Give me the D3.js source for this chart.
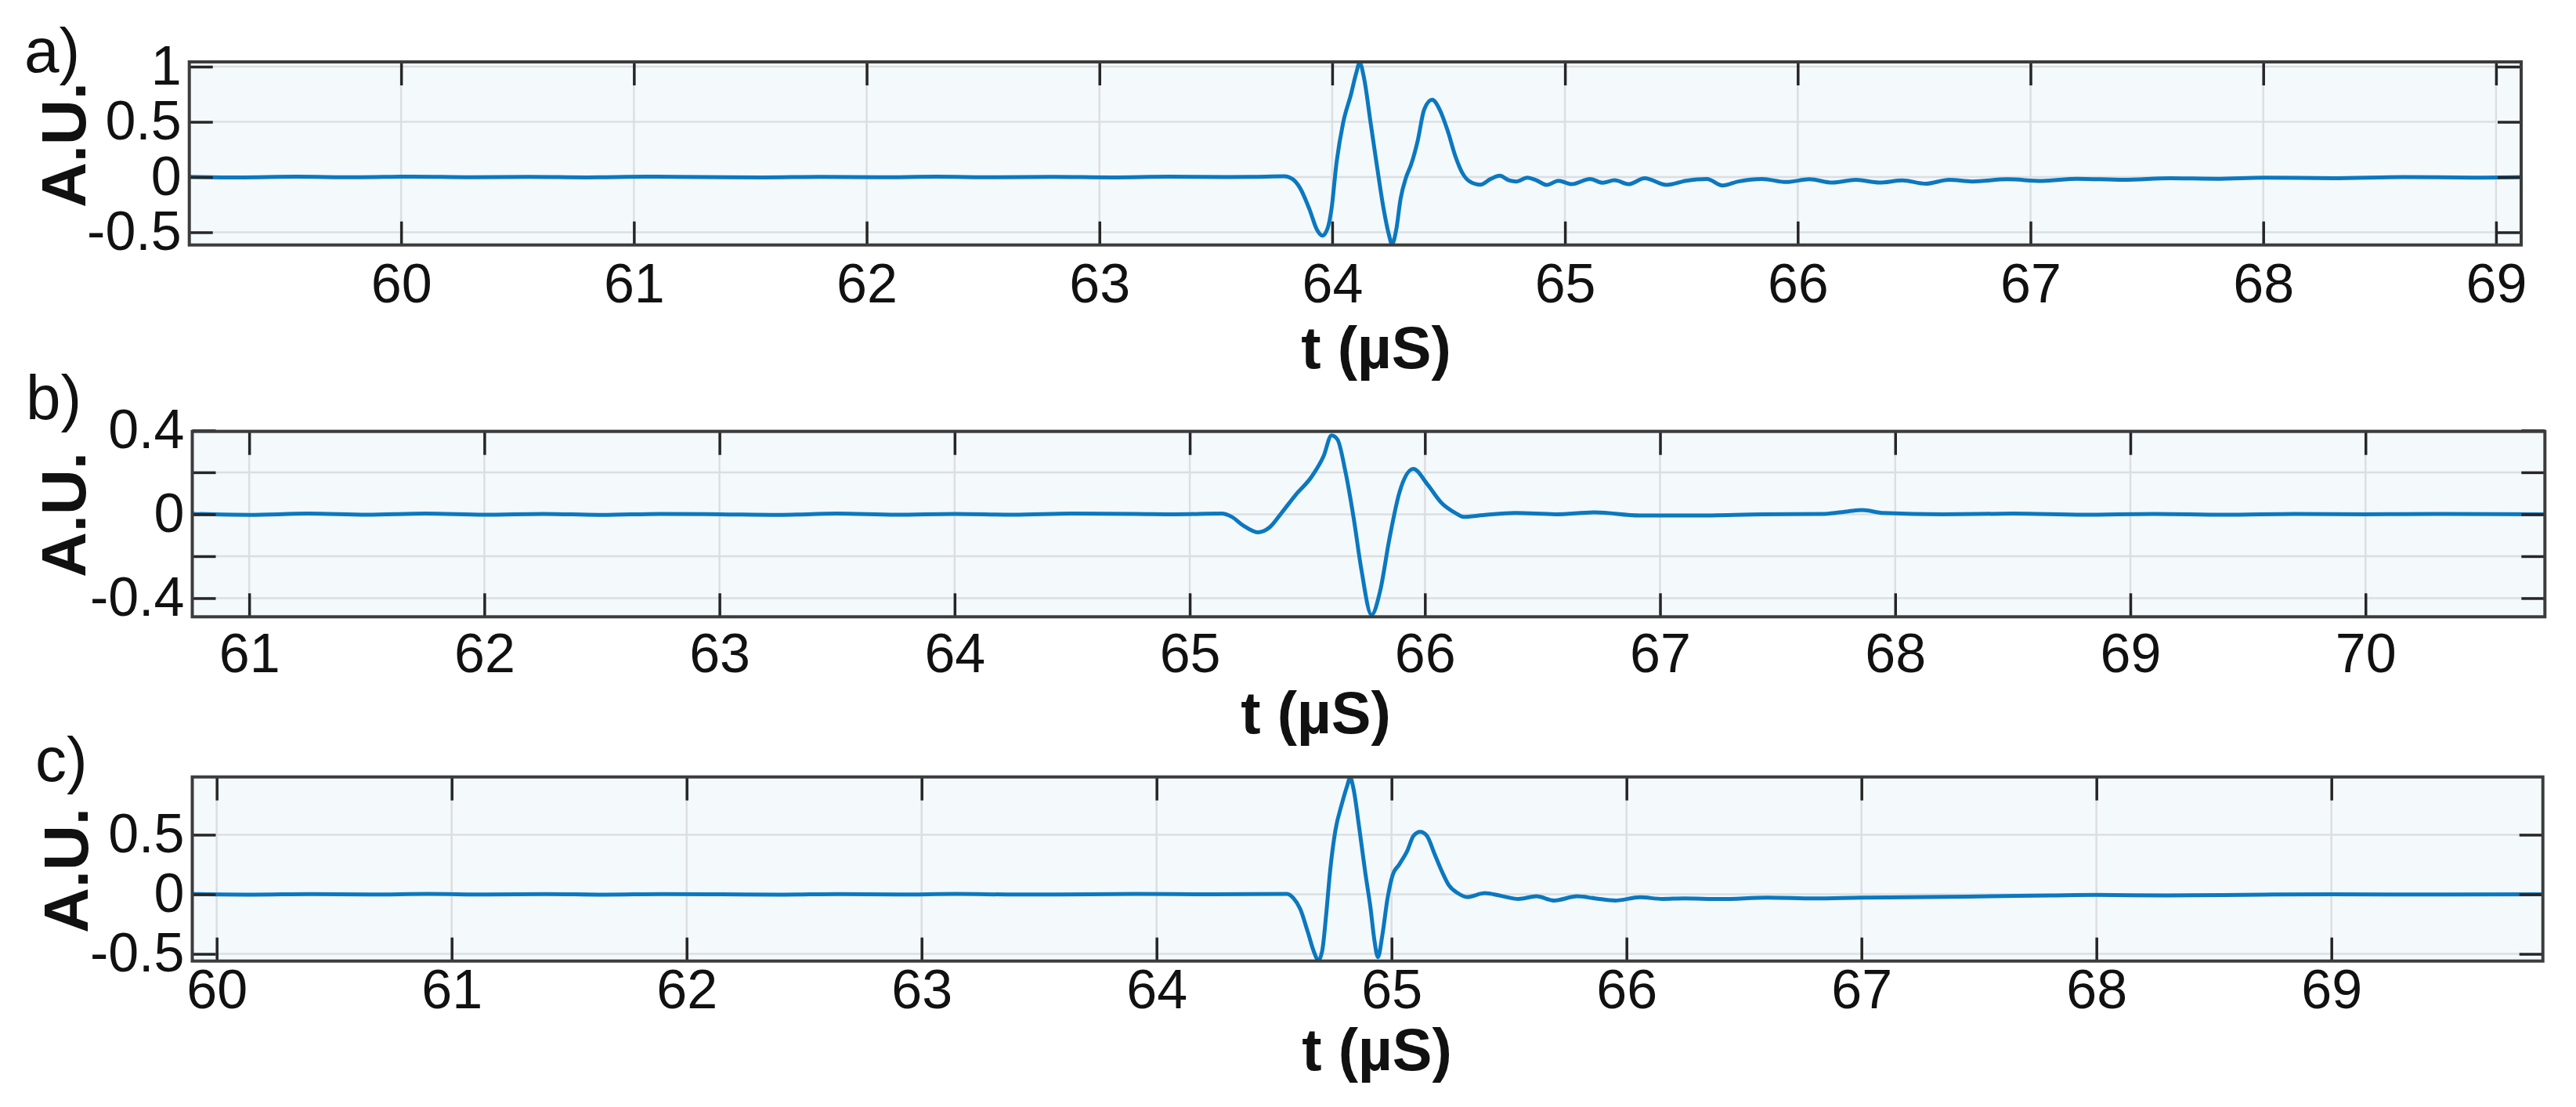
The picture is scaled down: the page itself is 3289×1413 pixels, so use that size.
<!DOCTYPE html>
<html>
<head>
<meta charset="utf-8">
<script src="https://cdn.jsdelivr.net/npm/d3@7"></script>
<style>
  body { margin: 0; background: #fff; }
  svg { display: block; font-family: "Liberation Sans", Arial, sans-serif; }
</style>
</head>
<body>
<script>
const width = 3289, height = 1413;

// signal a) : [t (µs), amplitude]
const waveA = [
  [59.09, 0.002], [59.3, -0.003], [59.55, 0.003], [59.8, -0.002], [60.05, 0.004], [60.3, -0.002],
  [60.55, 0.002], [60.8, -0.003], [61.05, 0.003], [61.3, 0.0], [61.55, -0.003], [61.8, 0.002],
  [62.05, -0.002], [62.3, 0.003], [62.55, -0.002], [62.8, 0.002], [63.05, -0.003], [63.3, 0.003],
  [63.55, 0.0], [63.661, 0.002], [63.795, 0.007],
  [63.829, -0.017], [63.862, -0.10], [63.902, -0.29], [63.935, -0.478], [63.958, -0.53], [63.98, -0.466],
  [63.997, -0.289], [64.019, 0.137], [64.047, 0.492], [64.081, 0.752], [64.103, 0.94], [64.118, 1.035],
  [64.137, 0.894], [64.165, 0.492], [64.193, 0.09], [64.221, -0.289], [64.244, -0.525], [64.257, -0.608],
  [64.275, -0.478], [64.294, -0.194], [64.317, -0.005], [64.339, 0.113], [64.367, 0.326], [64.395, 0.61],
  [64.429, 0.70], [64.462, 0.61], [64.496, 0.42], [64.53, 0.184], [64.558, 0.042], [64.591, -0.04],
  [64.636, -0.069], [64.681, -0.017], [64.72, 0.012], [64.759, -0.029], [64.793, -0.04], [64.838, -0.005],
  [64.877, -0.029], [64.922, -0.071], [64.972, -0.033], [65.029, -0.064], [65.107, -0.017], [65.163, -0.052],
  [65.213, -0.029], [65.275, -0.064], [65.342, -0.01], [65.437, -0.071], [65.52, -0.033], [65.61, -0.017],
  [65.677, -0.076], [65.745, -0.04], [65.847, -0.017], [65.95, -0.045], [66.05, -0.02], [66.15, -0.05],
  [66.25, -0.025], [66.35, -0.05], [66.45, -0.03], [66.55, -0.06], [66.65, -0.025], [66.75, -0.04],
  [66.9, -0.02], [67.05, -0.035], [67.2, -0.015], [67.4, -0.025], [67.6, -0.01], [67.8, -0.015],
  [68.0, -0.005], [68.3, -0.01], [68.6, 0.0], [68.9, -0.005], [69.11, 0.0]
];

// signal b)
const waveB = [
  [60.76, 0.002], [61.0, -0.003], [61.25, 0.003], [61.5, -0.002], [61.75, 0.003], [62.0, -0.002],
  [62.25, 0.002], [62.5, -0.003], [62.75, 0.002], [63.0, 0.0], [63.25, -0.003], [63.5, 0.003],
  [63.75, -0.002], [64.0, 0.002], [64.25, -0.002], [64.5, 0.003], [64.77, 0.002], [64.94, 0.0],
  [65.136, 0.003], [65.178, -0.012], [65.229, -0.055], [65.289, -0.086], [65.34, -0.062], [65.39, 0.006],
  [65.45, 0.092], [65.518, 0.179], [65.569, 0.277], [65.603, 0.376], [65.628, 0.357], [65.662, 0.203],
  [65.697, -0.018], [65.73, -0.265], [65.773, -0.48], [65.81, -0.364], [65.849, -0.117], [65.892, 0.105],
  [65.951, 0.216], [66.011, 0.142], [66.07, 0.055], [66.13, 0.006], [66.164, -0.012], [66.249, -0.004],
  [66.385, 0.006], [66.555, 0.0], [66.725, 0.009], [66.912, -0.006], [67.15, -0.006], [67.435, 0.0],
  [67.7, 0.002], [67.8, 0.014], [67.86, 0.02], [67.95, 0.006], [68.2, 0.0], [68.5, 0.003],
  [68.8, -0.002], [69.1, 0.002], [69.4, -0.002], [69.7, 0.002], [70.0, 0.0], [70.3, 0.002], [70.76, 0.0]
];

// signal c)
const waveC = [
  [59.9, 0.002], [60.15, -0.003], [60.4, 0.002], [60.65, -0.002], [60.9, 0.003], [61.15, -0.002],
  [61.4, 0.002], [61.65, -0.003], [61.9, 0.002], [62.15, 0.0], [62.4, -0.003], [62.65, 0.002],
  [62.9, -0.002], [63.15, 0.003], [63.4, -0.002], [63.577, -0.001], [63.91, 0.003], [64.244, 0.0],
  [64.555, 0.003], [64.583, -0.034], [64.611, -0.122], [64.644, -0.319], [64.672, -0.495], [64.688, -0.556],
  [64.705, -0.473], [64.722, -0.166], [64.738, 0.185], [64.761, 0.536], [64.788, 0.755], [64.811, 0.909],
  [64.824, 0.979], [64.838, 0.887], [64.861, 0.58], [64.888, 0.185], [64.911, -0.122], [64.927, -0.385],
  [64.942, -0.527], [64.961, -0.341], [64.983, -0.034], [65.005, 0.163], [65.033, 0.251], [65.066, 0.361],
  [65.094, 0.492], [65.122, 0.525], [65.15, 0.492], [65.183, 0.339], [65.216, 0.185], [65.244, 0.076],
  [65.282, 0.01], [65.32, -0.023], [65.397, 0.01], [65.464, -0.012], [65.54, -0.039], [65.617, -0.017],
  [65.693, -0.052], [65.789, -0.017], [65.866, -0.034], [65.952, -0.052], [66.057, -0.025], [66.153, -0.039],
  [66.244, -0.034], [66.4, -0.04], [66.6, -0.028], [66.8, -0.035], [67.0, -0.028], [67.2, -0.025],
  [67.5, -0.018], [67.8, -0.01], [68.0, -0.005], [68.3, -0.01], [68.7, -0.003], [69.0, 0.0],
  [69.5, -0.002], [69.9, 0.0]
];

// axis limits and ticks
const xDomA = [59.09, 69.108], yDomA = [-0.615, 1.043];
const xDomB = [60.758, 70.763], yDomB = [-0.489, 0.395];
const xDomC = [59.896, 69.90], yDomC = [-0.56, 0.985];
const xTicksA = [60, 61, 62, 63, 64, 65, 66, 67, 68, 69];
const xTicksB = [61, 62, 63, 64, 65, 66, 67, 68, 69, 70];
const xTicksC = [60, 61, 62, 63, 64, 65, 66, 67, 68, 69];
const yTicksA = [-0.5, 0, 0.5, 1];
const yTicksB = [-0.4, -0.2, 0, 0.2, 0.4];
const yTicksC = [-0.5, 0, 0.5];
const yLabelsB = [-0.4, 0, 0.4];
const panelNames = ["a)", "b)", "c)"];
const xTitle = "t (µS)", yTitle = "A.U.";

const panels = [
  { name: panelNames[0], wave: waveA, xDom: xDomA, yDom: yDomA, xTicks: xTicksA, yTicks: yTicksA, yLabels: yTicksA,
    box: { l: 241.7, r: 3219, t: 79, b: 312.7 }, xPad: 24, letter: [31, 92], ylab: [109, 185], xlab: [1757, 470] },
  { name: panelNames[1], wave: waveB, xDom: xDomB, yDom: yDomB, xTicks: xTicksB, yTicks: yTicksB, yLabels: yLabelsB,
    box: { l: 245.5, r: 3249.3, t: 550.7, b: 787.3 }, xPad: 21, letter: [33, 535], ylab: [109, 657], xlab: [1680, 936] },
  { name: panelNames[2], wave: waveC, xDom: xDomC, yDom: yDomC, xTicks: xTicksC, yTicks: yTicksC, yLabels: yTicksC,
    box: { l: 245.5, r: 3246.7, t: 991.7, b: 1226.7 }, xPad: 11, letter: [45, 997], ylab: [112, 1111], xlab: [1758, 1366] }
];

const axisColor = "#262626";
const tickLen = 30;

const svg = d3.select("body").append("svg")
  .attr("width", width)
  .attr("height", height)
  .style("background", "#fff");

panels.forEach((p, i) => {
  const w = p.box.r - p.box.l, h = p.box.b - p.box.t;
  const x = d3.scaleLinear().domain(p.xDom).range([0, w]);
  const y = d3.scaleLinear().domain(p.yDom).range([h, 0]);

  const g = svg.append("g").attr("transform", `translate(${p.box.l},${p.box.t})`);

  g.append("rect").attr("width", w).attr("height", h).attr("fill", "#f4f9fc");

  // grid
  g.append("g")
    .selectAll("line")
    .data(p.xTicks)
    .join("line")
    .attr("x1", d => x(d)).attr("x2", d => x(d))
    .attr("y1", 0).attr("y2", h)
    .attr("stroke", "#dcdfe1").attr("stroke-width", 2.5);
  g.append("g")
    .selectAll("line")
    .data(p.yTicks)
    .join("line")
    .attr("x1", 0).attr("x2", w)
    .attr("y1", d => y(d)).attr("y2", d => y(d))
    .attr("stroke", "#dcdfe1").attr("stroke-width", 2.5);

  // signal
  const clipId = "clip" + i;
  g.append("clipPath").attr("id", clipId)
    .append("rect").attr("width", w).attr("height", h);

  const line = d3.line()
    .x(d => x(d[0]))
    .y(d => y(d[1]))
    .curve(d3.curveMonotoneX);

  g.append("path")
    .datum(p.wave)
    .attr("clip-path", `url(#${clipId})`)
    .attr("fill", "none")
    .attr("stroke", "#0b78bf")
    .attr("stroke-width", 5)
    .attr("stroke-linejoin", "round")
    .attr("d", line);

  // ticks pointing inward, on all four sides
  const fmtY = d => p.yLabels.includes(d) ? String(d) : "";
  const styleAxis = a => {
    a.select(".domain").remove();
    a.selectAll(".tick line").attr("stroke", axisColor).attr("stroke-width", 3.5);
    a.selectAll("text").attr("fill", "#111").attr("font-size", 70)
      .attr("font-family", "'Liberation Sans', Arial, sans-serif");
  };

  g.append("g")
    .attr("transform", `translate(0,${h})`)
    .call(d3.axisBottom(x).tickValues(p.xTicks).tickSize(-tickLen).tickPadding(p.xPad).tickFormat(d => String(d)))
    .call(styleAxis);
  g.append("g")
    .call(d3.axisTop(x).tickValues(p.xTicks).tickSize(-tickLen).tickFormat(""))
    .call(styleAxis);
  g.append("g")
    .call(d3.axisLeft(y).tickValues(p.yTicks).tickSize(-tickLen).tickPadding(10).tickFormat(fmtY))
    .call(styleAxis);
  g.append("g")
    .attr("transform", `translate(${w},0)`)
    .call(d3.axisRight(y).tickValues(p.yTicks).tickSize(-tickLen).tickFormat(""))
    .call(styleAxis);

  // box
  g.append("rect")
    .attr("width", w).attr("height", h)
    .attr("fill", "none")
    .attr("stroke", "#3c3c3c")
    .attr("stroke-width", 4);

  // titles
  svg.append("text")
    .attr("x", p.letter[0]).attr("y", p.letter[1])
    .attr("font-size", 80)
    .attr("fill", "#111")
    .text(p.name);

  svg.append("text")
    .attr("transform", `translate(${p.ylab[0]},${p.ylab[1]}) rotate(-90)`)
    .attr("text-anchor", "middle")
    .attr("font-size", 80)
    .attr("font-weight", "bold")
    .attr("fill", "#111")
    .text(yTitle);

  svg.append("text")
    .attr("x", p.xlab[0]).attr("y", p.xlab[1])
    .attr("text-anchor", "middle")
    .attr("font-size", 76)
    .attr("font-weight", "bold")
    .attr("fill", "#111")
    .text(xTitle);
});
</script>
</body>
</html>
